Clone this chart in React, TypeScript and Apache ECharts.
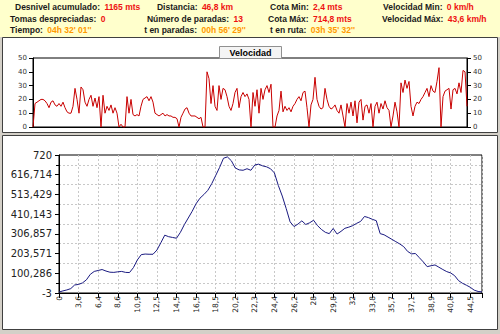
import React, { useEffect, useRef } from 'react';
import * as echarts from 'echarts';

// Speed (km/h) samples along the ride
const speed = [
  0, 17, 18, 19, 20,
  20, 19, 17, 14, 18,
  19, 16, 15, 17, 15,
  18, 14, 11, 10, 10,
  15, 28, 20, 10, 29,
  27, 18, 15, 20, 23,
  15, 21, 14, 22, 0,
  23, 10, 15, 12, 16,
  10, 14, 10, 0, 2,
  0, 0, 22, 10, 20,
  9, 8, 9, 8, 15,
  20, 21, 22, 19, 22,
  18, 10, 9, 8, 9,
  10, 8, 9, 8, 8,
  7, 7, 6, 0, 7,
  10, 13, 14, 10, 8,
  8, 8, 7, 6, 7,
  0, 0, 40, 35, 17,
  30, 15, 12, 30, 20,
  28, 27, 22, 15, 12,
  17, 25, 28, 14, 22,
  25, 22, 24, 20, 0,
  25, 15, 27, 10, 28,
  20, 27, 30, 25, 31,
  0, 0, 8, 12, 26,
  11, 15, 12, 14, 11,
  15, 17, 20, 22, 19,
  25, 26, 14, 0, 16,
  20, 36, 20, 15, 13,
  14, 28, 20, 15, 13,
  14, 16, 12, 10, 16,
  8, 0, 17, 10, 18,
  8, 19, 3, 18, 20,
  5, 15, 16, 10, 17,
  0, 15, 18, 10, 17,
  13, 19, 14, 12, 0,
  8, 18, 11, 0, 32,
  25, 34, 28, 33, 15,
  8, 15, 18, 17, 20,
  22, 25, 28, 22, 30,
  26, 25, 33, 43, 0,
  22, 26, 27, 28, 13,
  27, 28, 24, 32, 25,
  41, 40, 15,
];

// Elevation (m) samples
const elevation = [
  2, 8, 13, 20, 39, 42, 50, 66, 95, 110,
  115, 120, 112, 106, 105, 108, 110, 105, 104, 130,
  170, 198, 201, 200, 200, 222, 260, 300, 292, 288,
  284, 315, 355, 390, 425, 465, 494, 513, 535, 570,
  612, 655, 703, 710, 690, 652, 642, 640, 648, 640,
  668, 672, 663, 658, 648, 626, 560, 505, 440, 370,
  345, 358, 375, 356, 365, 378, 350, 330, 315, 308,
  335, 306, 320, 336, 342, 350, 362, 372, 398, 392,
  383, 376, 308, 302, 290, 278, 266, 254, 240, 215,
  202, 204, 182, 160, 135, 140, 144, 132, 120, 109,
  102, 88, 62, 48, 38, 27, 12, 5, 3,
];

// Distance (km) tick labels, one every 5 samples
const distanceTicks = [
  '0', '3,6', '6,4', '8,6', '10,9', '12,5', '14,5', '16,5', '18,5', '20,2', '22,3',
  '24,4', '26,2', '28', '29,8', '32', '33,8', '35,7', '37,1', '38,9', '40,8', '44,5',
];
const samplesPerTick = 5;

const elevMin = -3;
const elevMax = 720;
const elevSteps = 7;

// Header summary
const headerLabels = [
  'Desnivel acumulado:', 'Distancia:', 'Cota Min:', 'Velocidad Min:',
  'Tomas despreciadas:', 'Número de paradas:', 'Cota Máx:', 'Velocidad Máx:',
  'Tiempo:', 't en paradas:', 't en ruta:',
];
const headerValues = [
  '1165 mts', '46,8 km', '2,4 mts', '0 km/h',
  '0', '13', '714,8 mts', '43,6 km/h',
  "04h 32' 01''", "00h 56' 29''", "03h 35' 32''",
];
const headerKinds = ['v', 'v', 'v', 'v', 'v', 'v', 'v', 'v', 't', 't', 't'];
const chartTitle = 'Velocidad';

// layout of the header items (x, y, align)
const headerLayout: [number, number, string][] = [
  [15, 7, 'left'], [195, 7, 'center'], [270, 7, 'left'], [383, 7, 'left'],
  [10, 18.5, 'left'], [195, 18.5, 'center'], [268, 18.5, 'left'], [382, 18.5, 'left'],
  [10, 30, 'left'], [195, 30, 'center'], [270, 30, 'left'],
];

const fmtNum = (v: number) => String(Math.round(v * 1000) / 1000).replace('.', ',');

export default function App() {
  const ref = useRef<HTMLDivElement>(null);
  useEffect(() => {
    document.body.style.margin = '0';
    const chart = echarts.init(ref.current!, undefined, { renderer: 'svg' });
    const span = elevMax - elevMin;
    const elevInterval = span / elevSteps;
    const labelFont = 'DejaVu Sans';

    const headerGraphics = headerLabels.map((lab, i) => ({
      type: 'text',
      z: 10,
      style: {
        text: `{l|${lab}} {${headerKinds[i]}|${headerValues[i]}}`,
        x: headerLayout[i][0],
        y: headerLayout[i][1],
        align: headerLayout[i][2],
        verticalAlign: 'middle',
        fontFamily: 'Liberation Sans',
        fontSize: 8.5,
        fontWeight: 'bold',
        rich: {
          l: { fontFamily: 'Liberation Sans', fontSize: 8.5, fontWeight: 'bold', fill: '#1a1a1a', color: '#1a1a1a' },
          v: { fontFamily: 'Liberation Sans', fontSize: 8.5, fontWeight: 'bold', fill: '#ee1111', color: '#ee1111', padding: [0, 0, 0, 2] },
          t: { fontFamily: 'Liberation Sans', fontSize: 8.5, fontWeight: 'bold', fill: '#ff9900', color: '#ff9900', padding: [0, 0, 0, 2] },
        },
      },
    }));

    chart.setOption({
      animation: false,
      backgroundColor: '#d4d0c8',
      graphic: [
        { type: 'rect', z: -10, shape: { x: 0, y: 0, width: 500, height: 37 }, style: { fill: '#ffffcc' } },
        { type: 'rect', z: -10, shape: { x: 2.5, y: 37.5, width: 495, height: 95 }, style: { fill: '#ffffff', stroke: '#404040', lineWidth: 1 } },
        { type: 'rect', z: -10, shape: { x: 2.5, y: 135.5, width: 495, height: 194 }, style: { fill: '#ffffff', stroke: '#404040', lineWidth: 1 } },
        ...headerGraphics,
        { type: 'rect', z: 100, shape: { x: 219.5, y: 46.5, width: 62, height: 12 }, style: { fill: '#f4f4f4', stroke: '#909090', lineWidth: 1 } },
        {
          type: 'text', z: 101,
          style: { text: chartTitle, x: 250.5, y: 52.5, align: 'center', verticalAlign: 'middle', fontFamily: 'Liberation Sans', fontSize: 9, fontWeight: 'bold', fill: '#000' },
        },
      ],
      grid: [
        { left: 33, top: 58, width: 434, height: 69, show: true, borderColor: '#000', borderWidth: 1, backgroundColor: 'transparent' },
        { left: 59, top: 155, width: 423, height: 138, show: true, borderColor: '#000', borderWidth: 1, backgroundColor: 'transparent' },
      ],
      xAxis: [
        {
          type: 'category', gridIndex: 0, boundaryGap: false,
          data: speed.map((_, i) => i),
          axisLine: { lineStyle: { color: '#000' } },
          axisTick: { show: false }, axisLabel: { show: false }, splitLine: { show: false },
        },
        {
          type: 'value', gridIndex: 1, min: 0, max: elevation.length - 1, interval: samplesPerTick,
          axisLine: { lineStyle: { color: '#000' } },
          axisTick: { show: true, length: 5, lineStyle: { color: '#000' } },
          axisLabel: {
            rotate: 90, fontSize: 7.5, fontFamily: labelFont, color: '#222', margin: 3,
            padding: [6, 0, 0, 0],
            formatter: (v: number) => (v % samplesPerTick === 0 ? distanceTicks[v / samplesPerTick] ?? '' : ''),
          },
          splitLine: { show: true, lineStyle: { color: '#c8c8c8', type: [2, 2], width: 1 } },
        },
      ],
      yAxis: [
        {
          type: 'value', gridIndex: 0, min: 0, max: 50, interval: 10, position: 'left',
          axisLine: { show: true, lineStyle: { color: '#000' } },
          axisTick: { show: true, length: 4, lineStyle: { color: '#000' } },
          axisLabel: { fontSize: 7, fontFamily: labelFont, color: '#333', margin: 6 },
          splitLine: { show: false },
        },
        {
          type: 'value', gridIndex: 0, min: 0, max: 50, interval: 10, position: 'right',
          axisLine: { show: true, lineStyle: { color: '#000' } },
          axisTick: { show: true, length: 4, lineStyle: { color: '#000' } },
          axisLabel: { fontSize: 7, fontFamily: labelFont, color: '#333', margin: 6 },
          splitLine: { show: false },
        },
        {
          type: 'value', gridIndex: 1, min: 0, max: span, interval: elevInterval,
          axisLine: { show: true, lineStyle: { color: '#000' } },
          axisTick: { show: true, length: 4, lineStyle: { color: '#000' } },
          minorTick: { show: true, splitNumber: 2, length: 3, lineStyle: { color: '#000' } },
          axisLabel: {
            fontSize: 10, fontFamily: labelFont, color: '#222', margin: 7,
            showMinLabel: true, showMaxLabel: true,
            formatter: (v: number) => fmtNum(v + elevMin),
          },
          splitLine: { show: false },
          minorSplitLine: { show: true, lineStyle: { color: '#c8c8c8', type: [2, 2], width: 1 } },
        },
      ],
      series: [
        {
          type: 'line', xAxisIndex: 0, yAxisIndex: 0, data: speed, showSymbol: false,
          lineStyle: { color: '#c80000', width: 1 }, itemStyle: { color: '#c80000' },
        },
        {
          type: 'line', xAxisIndex: 1, yAxisIndex: 2,
          data: elevation.map((e, i) => [i, e - elevMin]), showSymbol: false,
          lineStyle: { color: '#1a1a80', width: 1 }, itemStyle: { color: '#1a1a80' },
        },
      ],
    });
    return () => chart.dispose();
  }, []);
  return <div ref={ref} style={{ width: 500, height: 334 }} />;
}
